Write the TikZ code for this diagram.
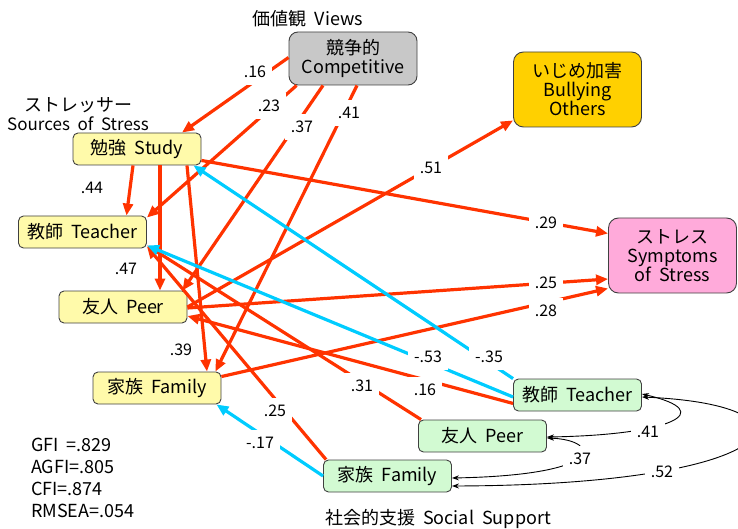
\documentclass[tikz,border=0pt]{standalone}
\usepackage{fontspec}
\setmainfont{Noto Sans CJK JP}[WordSpace=2]
\usetikzlibrary{arrows.meta,calc}
\definecolor{cred}{RGB}{255,51,0}
\definecolor{cblue}{RGB}{0,204,255}
\definecolor{cyel}{RGB}{255,250,170}
\definecolor{cgray}{RGB}{200,200,200}
\definecolor{cgold}{RGB}{255,208,0}
\definecolor{cpink}{RGB}{255,170,218}
\definecolor{cgreen}{RGB}{210,250,210}
\tikzset{
  bigf/.style={font=\fontsize{18pt}{19pt}\selectfont},
  lblf/.style={font=\fontsize{16pt}{18pt}\selectfont},
  box/.style={draw=black!75, line width=0.9pt, rounded corners=5pt, minimum width=128pt,
    minimum height=32pt, inner sep=0pt, align=center, bigf},
  ybox/.style={box, fill=cyel},
  gbox/.style={box, fill=cgreen},
  bigbox/.style={box, rounded corners=10pt, minimum height=75pt},
  ra/.style={draw=cred, line width=3.2pt, -{Triangle[length=12pt,width=10pt]}},
  ba/.style={draw=cblue, line width=3.2pt, -{Triangle[length=12pt,width=10pt]}},
  cv/.style={draw=black, line width=0.9pt, {Stealth[length=7pt,width=5pt]}-{Stealth[length=7pt,width=5pt]}},
  lbl/.style={fill=white, inner xsep=6pt, inner ysep=7pt, lblf},
}
\begin{document}
\begin{tikzpicture}[x=1pt,y=-1pt]
\useasboundingbox (0,0) rectangle (738,529);
% boxes
\node[box, fill=cgray, rounded corners=9pt, minimum height=53pt] (comp) at (353,58.5) {競争的\\Competitive};
\node[bigbox, fill=cgold] (bully) at (577.5,89.5) {いじめ加害\\Bullying\\Others};
\node[bigbox, fill=cpink] (symp) at (672.5,255.5) {ストレス\\Symptoms\\of Stress};
\node[ybox] (study) at (137,149) {勉強 Study};
\node[ybox] (teach) at (82.5,232) {教師 Teacher};
\node[ybox] (peer) at (123,307) {友人 Peer};
\node[ybox] (fam) at (157,388) {家族 Family};
\node[gbox] (steach) at (577.5,395) {教師 Teacher};
\node[gbox] (speer) at (482.5,436) {友人 Peer};
\node[gbox] (sfam) at (387.5,476) {家族 Family};
% titles
\node[bigf] (views) at (308,19) {価値観 Views};
\node[bigf] (stressor) at (78,105) {ストレッサー};
\node[font=\fontsize{17pt}{18pt}\selectfont] (sos) at (78,124) {Sources of Stress};
\node[bigf] (ssup) at (438,519) {社会的支援 Social Support};
\node[anchor=west, align=left, font=\fontsize{18pt}{22pt}\selectfont, inner sep=0pt] (fit) at (31,478) {GFI =.829\\AGFI=.805\\CFI=.874\\RMSEA=.054};
% red paths
\draw[ra] ($(comp.west)+(0,-1)$) -- coordinate (p1) ($(study.north)+(45,0)$);
\draw[ra] ($(comp.south west)+(8,0)$) -- ($(teach.north east)+(0,2)$);
\draw[ra] ($(comp.south)+(-30,0)$) -- ($(peer.north east)+(-5,0)$);
\draw[ra] ($(comp.south)+(4,0)$) -- ($(fam.north east)+(-6,0)$);
\draw[ra] ($(study.south)+(-4,0)$) -- ($(teach.north)+(44,0)$);
\draw[ra] ($(study.south)+(23,0)$) -- ($(peer.north)+(37,0)$);
\draw[ra] ($(study.south)+(50,0)$) -- ($(fam.north)+(50,0)$);
\draw[ra] ($(study.south east)+(0,-5)$) -- ($(symp.west)+(0,-22)$);
\draw[ra] (peer.east) -- ($(bully.south west)+(0,-7)$);
\draw[ra] ($(peer.east)+(0,1)$) -- ($(symp.west)+(0,23.5)$);
\draw[ra] ($(fam.north east)+(0,5)$) -- ($(symp.south west)+(0,-5)$);
\draw[ra] ($(steach.south west)+(0,-8)$) -- ($(peer.east)+(0,9)$);
\draw[ra] ($(speer.north west)+(3,0)$) -- ($(teach.south east)+(0,-3)$);
\draw[ra] ($(sfam.north west)+(3,0)$) -- ($(teach.south east)+(0,-2)$);
% blue paths
\draw[ba] (steach.north west) -- ($(study.south east)+(-8,0)$);
\draw[ba] ($(steach.west)+(0,2)$) -- ($(teach.south east)+(0,-3)$);
\draw[ba] (sfam.west) -- ($(fam.south east)+(-5,0)$);
% correlations
\draw[cv] ($(speer.east)+(0,1)$) .. controls (670,435) and (720,412) .. ($(steach.east)+(0,-1)$);
\draw[cv] ($(speer.east)+(0,2)$) .. controls (600,440) and (610,475) .. ($(sfam.east)+(0,2)$);
\draw[cv] ($(steach.east)+(0,2)$) .. controls (830,405) and (790,485) .. ($(sfam.east)+(0,10)$);
% labels
\node[lbl] (l1) at (255,72) {.16};
\node[lbl] (l2) at (269,106) {.23};
\node[lbl] (l3) at (302,127) {.37};
\node[lbl] (l4) at (349,113) {.41};
\node[lbl] (l5) at (92,188) {.44};
\node[lbl] (l6) at (126,269) {.47};
\node[lbl] (l7) at (181,350) {.39};
\node[lbl] (l8) at (431,168) {.51};
\node[lbl] (l9) at (546,223) {.29};
\node[lbl] (l10) at (546,283) {.25};
\node[lbl] (l11) at (546,311) {.28};
\node[lbl] (l12) at (428,357) {-.53};
\node[lbl] (l13) at (489,357) {-.35};
\node[lbl] (l14) at (362,386) {.31};
\node[lbl] (l15) at (425,390) {.16};
\node[lbl] (l16) at (275,411) {.25};
\node[lbl] (l17) at (260,443) {-.17};
\node[lbl] (l18) at (648,432) {.41};
\node[lbl] (l19) at (580,459) {.37};
\node[lbl] (l20) at (662,472) {.52};
\end{tikzpicture}
\end{document}
